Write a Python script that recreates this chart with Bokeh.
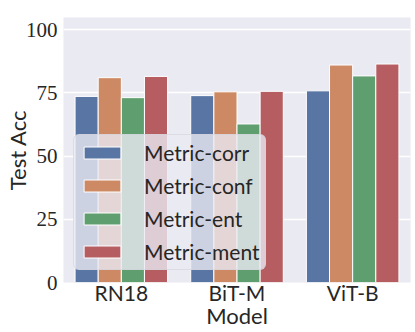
from bokeh.plotting import figure
from bokeh.models import ColumnDataSource, Range1d, FactorRange, Legend, LegendItem
from bokeh.transform import dodge
from bokeh.embed import file_html
from bokeh.resources import INLINE

models = ["RN18", "BiT-M", "ViT-B"]
metric_corr = [73.6, 73.9, 75.8]
metric_conf = [81.0, 75.4, 86.0]
metric_ent = [73.1, 62.7, 81.7]
metric_ment = [81.5, 75.6, 86.4]
series_names = ["Metric-corr", "Metric-conf", "Metric-ent", "Metric-ment"]
colors = ["#5975a4", "#cc8963", "#5f9e6e", "#b55d60"]
y_ticks = [0, 25, 50, 75, 100]

source = ColumnDataSource(dict(model=models, corr=metric_corr, conf=metric_conf,
                               ent=metric_ent, ment=metric_ment))

SANS = "Lato"
SERIF = "Liberation Serif"

p = figure(x_range=FactorRange(*models, range_padding=0), y_range=Range1d(0, 104.8),
           frame_width=347, frame_height=265, min_border_left=63, min_border_right=5,
           min_border_top=17, min_border_bottom=50,
           output_backend="svg", toolbar_location=None)
p.background_fill_color = "#EAEAF2"
p.border_fill_color = "white"
p.outline_line_color = None

items = []
offsets = [-0.3, -0.1, 0.1, 0.3]
for col, off, c, name in zip(["corr", "conf", "ent", "ment"], offsets, colors, series_names):
    r = p.vbar(x=dodge("model", off, range=p.x_range), top=col, width=0.2, source=source,
               fill_color=c, line_color="white", line_width=1)
    items.append(LegendItem(label=name, renderers=[r]))

legend = Legend(items=items, location=(10, 12))
legend.background_fill_color = "#EAEAF2"
legend.background_fill_alpha = 0.8
legend.border_line_color = "#D0D0D8"
legend.border_line_width = 1
legend.border_radius = 6
legend.label_text_font = SANS
legend.label_text_font_size = "21px"
legend.label_text_color = "#262626"
legend.glyph_width = 46
legend.glyph_height = 15
legend.label_standoff = 19
legend.padding = 5
legend.spacing = 8
legend.margin = 0
p.add_layout(legend, "center")

p.ygrid.grid_line_color = "white"
p.ygrid.grid_line_width = 1.3
p.xgrid.visible = False
p.yaxis.ticker = y_ticks

for ax in (p.xaxis, p.yaxis):
    ax.axis_line_color = None
    ax.major_tick_line_color = None
    ax.minor_tick_line_color = None
    ax.major_tick_out = 0
    ax.major_tick_in = 0
    ax.minor_tick_out = 0
    ax.minor_tick_in = 0
    ax.major_label_text_color = "#262626"
    ax.axis_label_text_color = "#262626"
    ax.axis_label_text_font_style = "normal"
    ax.axis_label_text_font = SANS
    ax.axis_label_text_font_size = "22px"

p.yaxis.major_label_text_font = SERIF
p.yaxis.major_label_text_font_size = "21px"
p.yaxis.major_label_standoff = 6
p.yaxis.axis_label = "Test Acc"
p.yaxis.axis_label_standoff = -8

p.xaxis.major_label_text_font = SANS
p.xaxis.major_label_text_font_size = "21px"
p.xaxis.major_label_standoff = -3
p.xaxis.axis_label = "Model"
p.xaxis.axis_label_standoff = -6

open("out.html", "w").write(file_html(p, INLINE))
